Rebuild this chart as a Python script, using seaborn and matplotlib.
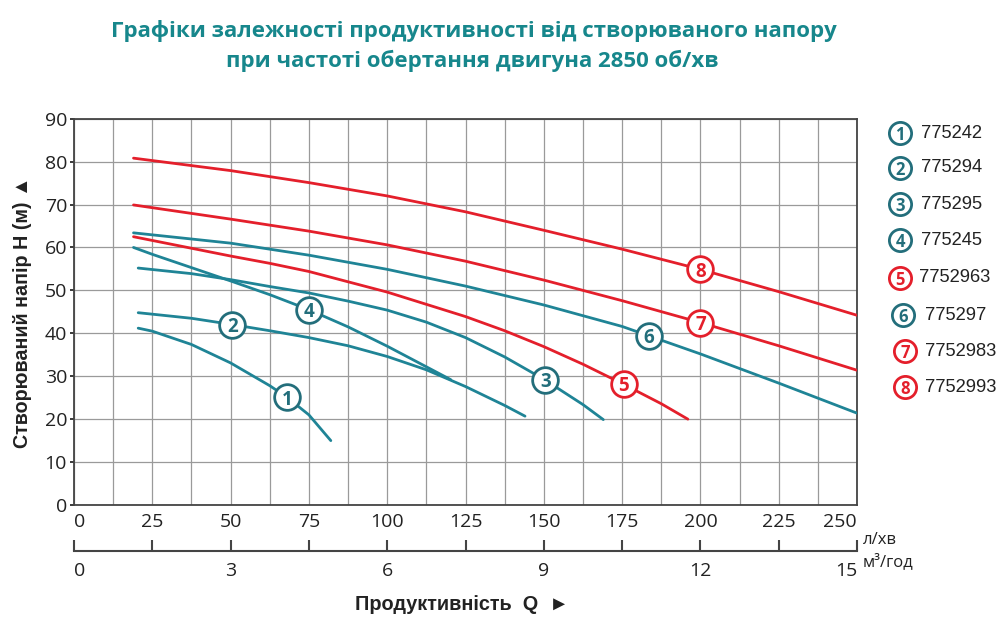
import numpy as np
import pandas as pd
import matplotlib
matplotlib.use("Agg")
import matplotlib.pyplot as plt
import seaborn as sns
from matplotlib.lines import Line2D

# ---------------- data ----------------
pump_ids = ["1", "2", "3", "4", "5", "6", "7", "8"]
pump_models = ["775242", "775294", "775295", "775245",
               "7752963", "775297", "7752983", "7752993"]
pump_group = ["teal", "teal", "teal", "teal", "red", "teal", "red", "red"]

q1 = [20.5, 25, 37.5, 50, 62.5, 68, 75, 82]
h1 = [41.2, 40.5, 37.4, 33.1, 27.8, 25.1, 21.0, 15.0]
q2 = [20.5, 37.5, 50, 62.5, 75, 87.5, 100, 112.5, 125, 137.5, 144]
h2 = [44.8, 43.5, 42.1, 40.6, 39.0, 37.1, 34.6, 31.5, 27.6, 23.2, 20.7]
q3 = [20.5, 37.5, 50, 62.5, 75, 87.5, 100, 112.5, 125, 137.5, 150, 162.5, 169]
h3 = [55.2, 53.9, 52.5, 50.9, 49.4, 47.5, 45.4, 42.6, 39.0, 34.5, 29.3, 23.4, 19.9]
q4 = [19, 25, 37.5, 50, 62.5, 75, 87.5, 100, 112.5, 120.3]
h4 = [60.0, 58.4, 55.3, 52.2, 49.0, 45.5, 41.5, 37.0, 32.2, 29.2]
q5 = [19, 50, 62.5, 75, 100, 125, 137.5, 150, 162.5, 175, 187.5, 196]
h5 = [62.5, 58.0, 56.3, 54.4, 49.6, 43.9, 40.6, 36.9, 32.8, 28.3, 23.6, 20.0]
q6 = [19, 50, 75, 100, 125, 150, 175, 200, 225, 250]
h6 = [63.4, 61.0, 58.2, 54.9, 51.0, 46.6, 41.6, 35.2, 28.4, 21.4]
q7 = [19, 50, 75, 100, 125, 150, 175, 200, 225, 250]
h7 = [69.9, 66.6, 63.8, 60.6, 56.8, 52.4, 47.6, 42.5, 37.1, 31.4]
q8 = [19, 50, 75, 100, 125, 150, 175, 200, 225, 250]
h8 = [80.8, 77.9, 75.1, 72.0, 68.3, 64.0, 59.6, 54.9, 49.7, 44.2]

# curve number badges (position along each curve)
label_q = [68, 50.5, 150.5, 75, 175.5, 183.5, 200, 200]
label_h = [25.1, 42.0, 29.2, 45.5, 28.2, 39.4, 42.5, 54.9]

q_ticks = [0, 25, 50, 75, 100, 125, 150, 175, 200, 225, 250]
m3_ticks = [0, 3, 6, 9, 12, 15]
h_ticks = [0, 10, 20, 30, 40, 50, 60, 70, 80, 90]

title_lines = ["Графіки залежності продуктивності від створюваного напору",
               "при частоті обертання двигуна 2850 об/хв"]
ylabel = "Створюваний напір H (м) ▲"
xlabel = "Продуктивність  Q  ►"
unit_q = "л/хв"
unit_m3 = "м³/год"

# ---------------- style ----------------
TEAL = "#1f8496"
TEAL_DARK = "#236e7b"
RED = "#e41f2b"
TITLE_C = "#17878c"
line_col = {"teal": TEAL, "red": RED}
badge_col = {"teal": TEAL_DARK, "red": RED}

sns.set_theme(style="white")
plt.rcParams["font.family"] = ["Open Sans", "DejaVu Sans"]

qs = [q1, q2, q3, q4, q5, q6, q7, q8]
hs = [h1, h2, h3, h4, h5, h6, h7, h8]
frames = []
for pid, q, h in zip(pump_ids, qs, hs):
    frames.append(pd.DataFrame({"Q": q, "H": h, "pump": pid}))
df = pd.concat(frames, ignore_index=True)
palette = {pid: line_col[g] for pid, g in zip(pump_ids, pump_group)}

fig = plt.figure(figsize=(10, 6.18), dpi=100)
ax = fig.add_axes([0.074, 0.1828, 0.783, 0.6252])

sns.lineplot(data=df, x="Q", y="H", hue="pump", palette=palette,
             estimator=None, sort=False, legend=False, lw=2.0, ax=ax, zorder=3)

ax.set_xlim(0, 250)
ax.set_ylim(0, 90)
ax.set_xticks(q_ticks)
ax.set_xticklabels([str(v) for v in q_ticks])
ax.set_xticks(np.arange(0, 251, 12.5), minor=True)
ax.set_yticks(h_ticks)
ax.set_yticklabels([str(v) for v in h_ticks])
ax.grid(which="both", axis="x", color="#9a9a9a", lw=0.9)
ax.grid(which="major", axis="y", color="#9a9a9a", lw=0.9)
ax.set_axisbelow(True)
ax.tick_params(axis="x", which="both", length=0, pad=6, labelsize=14, colors="#222222")
ax.tick_params(axis="y", which="both", length=3, pad=2, labelsize=14, colors="#222222",
               left=True)
ax.set_xlabel("")
ax.set_ylabel("")
for s in ax.spines.values():
    s.set_color("#444444")
    s.set_linewidth(1.3)
xl = ax.get_xticklabels()
xl[0].set_ha("left")
xl[-1].set_ha("right")

# badges on curves
for pid, g, lq, lh in zip(pump_ids, pump_group, label_q, label_h):
    c = badge_col[g]
    ax.plot([lq], [lh], marker="o", ms=18.5, mfc="white", mec=c, mew=2, zorder=5)
    ax.text(lq, lh, pid, ha="center", va="center_baseline", fontsize=13.5,
            fontweight="bold", color=c, zorder=6)

# secondary axis (m3/h)
sec = ax.secondary_xaxis(-0.119, functions=(lambda q: q * 0.06, lambda m: m / 0.06))
sec.set_xticks(m3_ticks)
sec.set_xticklabels([str(v) for v in m3_ticks])
sec.set_xticks(np.arange(0, 15.01, 1.5), minor=True)
sec.tick_params(which="both", direction="in", length=8, width=1.5,
                color="#444444", labelsize=14, pad=8, labelcolor="#222222")
sec.spines["bottom"].set_color("#444444")
sec.spines["bottom"].set_linewidth(1.5)
sl = sec.get_xticklabels()
sl[0].set_ha("left")
sl[-1].set_ha("right")

# units
fig.text(0.863, 1 - 540 / 618, unit_q, ha="left", va="center", fontsize=12, color="#222222")
fig.text(0.863, 1 - 562 / 618, unit_m3, ha="left", va="center", fontsize=12, color="#222222")

# axis titles
fig.text(0.0225, 1 - 312 / 618, ylabel, rotation=90, ha="center", va="center",
         fontsize=14.2, fontweight="bold", color="#222222",
         family=["Liberation Sans", "DejaVu Sans"])
fig.text(0.4615, 1 - 604 / 618, xlabel, ha="center", va="center",
         fontsize=14.3, fontweight="bold", color="#222222",
         family=["Liberation Sans", "DejaVu Sans"])

# title
fig.text(0.474, 1 - 31 / 618, title_lines[0], ha="center", va="center",
         fontsize=16, fontweight="bold", color=TITLE_C)
fig.text(0.472, 1 - 61 / 618, title_lines[1], ha="center", va="center",
         fontsize=16, fontweight="bold", color=TITLE_C)

# legend (manual, circled numbers)
leg_cx = [900, 900, 900, 900, 900, 903, 905, 905]
leg_cy = [133, 168, 204, 240, 278, 315, 351, 387]
leg_tx = [921, 921, 921, 921, 919, 925, 925, 925]
for pid, g, model, cx, cy, tx in zip(pump_ids, pump_group, pump_models, leg_cx, leg_cy, leg_tx):
    c = badge_col[g]
    fig.add_artist(Line2D([cx / 1000], [1 - cy / 618], marker="o", ms=16, mfc="white",
                          mec=c, mew=2, transform=fig.transFigure))
    fig.text(cx / 1000, 1 - cy / 618, pid, ha="center", va="center_baseline",
             fontsize=12, fontweight="bold", color=c)
    fig.text(tx / 1000, 1 - cy / 618, model, ha="left", va="center", fontsize=13.2,
             color="#222222", family=["Liberation Sans", "DejaVu Sans"])

fig.savefig("out.png", dpi=100, facecolor="white")
